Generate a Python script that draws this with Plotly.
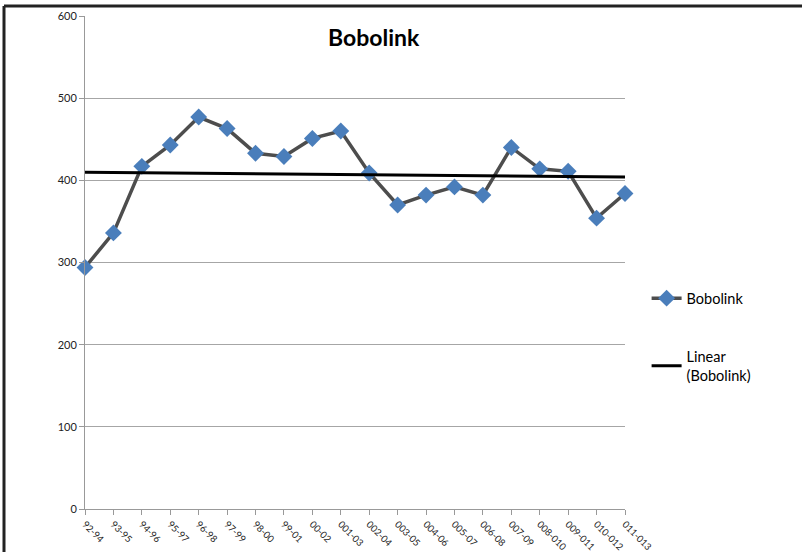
import numpy as np
import plotly.graph_objects as go

periods = ["92-94", "93-95", "94-96", "95-97", "96-98", "97-99", "98-00", "99-01",
           "00-02", "001-03", "002-04", "003-05", "004-06", "005-07", "006-08",
           "007-09", "008-010", "009-011", "010-012", "011-013"]
bobolink = [294, 336, 417, 443, 477, 463, 433, 429, 451, 460, 409, 370, 382, 392,
            382, 440, 414, 411, 354, 384]
y_ticks = [0, 100, 200, 300, 400, 500, 600]

xs = np.arange(len(periods))
slope, intercept = np.polyfit(xs, bobolink, 1)
trend = slope * xs + intercept

FONT = "Lato"
fig = go.Figure()
fig.add_trace(go.Scatter(
    x=xs, y=bobolink, mode="lines+markers", name="Bobolink",
    line=dict(color="#4d4d4d", width=3.5),
    marker=dict(symbol="diamond", size=13, color="#4a7ebb"),
    cliponaxis=False, legend="legend"))
fig.add_trace(go.Scatter(
    x=xs, y=trend, mode="lines", name="Linear<br>(Bobolink)",
    line=dict(color="#000000", width=3), legend="legend2"))

fig.update_layout(
    width=802, height=552,
    margin=dict(l=85, r=177, t=16, b=43, autoexpand=False),
    paper_bgcolor="white", plot_bgcolor="white",
    font=dict(family=FONT, color="#222"),
    showlegend=True,
    legend=dict(x=1.04, y=0.46, xanchor="left", yanchor="top",
                font=dict(size=14.5, family=FONT, color="#000"),
                bgcolor="rgba(0,0,0,0)", itemwidth=30),
    legend2=dict(x=1.04, y=0.342, xanchor="left", yanchor="top",
                 font=dict(size=14.5, family=FONT, color="#000"),
                 bgcolor="rgba(0,0,0,0)", itemwidth=30),
    annotations=[dict(text="<b>Bobolink</b>", x=0.535, y=(509 - 37) / 493,
                      xref="paper", yref="paper", showarrow=False,
                      xanchor="center", yanchor="middle",
                      font=dict(size=23, family=FONT, color="#000"))],
    shapes=[
        dict(type="line", xref="paper", yref="paper", x0=-0.15, x1=-0.15,
             y0=-0.2, y1=(509 - 6) / 493, line=dict(color="#222", width=3)),
        dict(type="line", xref="paper", yref="paper", x0=-0.15, x1=1.4,
             y0=(509 - 6) / 493, y1=(509 - 6) / 493, line=dict(color="#222", width=3)),
    ],
)
fig.update_xaxes(
    range=[0, len(periods) - 1], tickvals=list(xs), ticktext=periods,
    tickangle=45, tickfont=dict(size=9.5, family=FONT, color="#222"),
    showline=True, linecolor="#999", linewidth=1, automargin=False,
    ticks="outside", ticklen=5, tickcolor="#999",
    showgrid=False, zeroline=False)
fig.update_yaxes(
    range=[0, 600], tickvals=y_ticks, automargin=False,
    tickfont=dict(size=11, family=FONT, color="#222"),
    showline=True, linecolor="#999", linewidth=1,
    ticks="outside", ticklen=5, tickcolor="#999",
    showgrid=True, gridcolor="#a6a6a6", gridwidth=1, zeroline=False)

fig.write_html("out.html")
